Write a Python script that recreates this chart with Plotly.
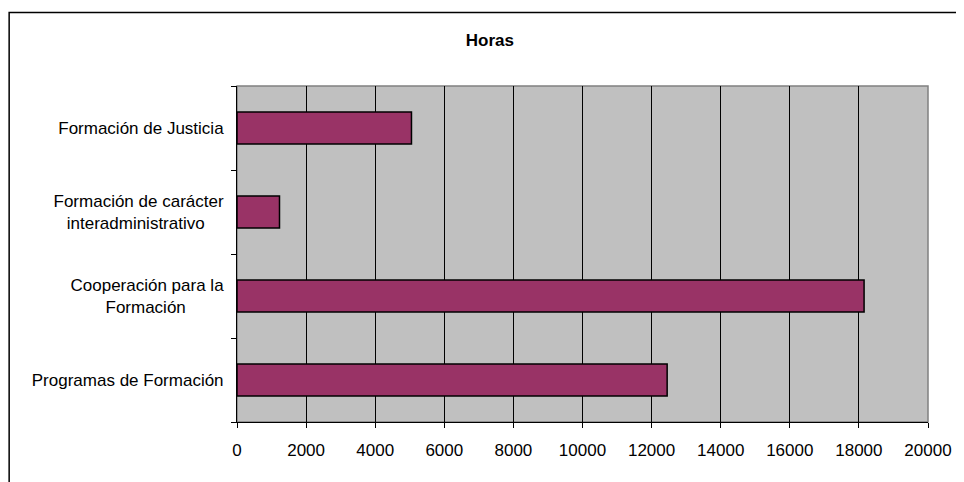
# Horas por tipo de formación - barras horizontales
import plotly.graph_objects as go

# Datos (de abajo hacia arriba)
categorias = [
    'Programas de Formación',
    'Cooperación para la<br>Formación',
    'Formación de carácter<br>interadministrativo',
    'Formación de Justicia',
]
horas = [12450, 18150, 1230, 5050]
ticks_x = [0, 2000, 4000, 6000, 8000, 10000, 12000, 14000, 16000, 18000, 20000]

# centrar a mano las etiquetas de dos líneas (plotly las alinea a la derecha)
nb = '\u00a0'
etiquetas = [
    'Programas de Formación',
    'Cooperación para la<br>Formación' + nb * 8,
    'Formación de carácter<br>interadministrativo' + nb * 4,
    'Formación de Justicia',
]

fig = go.Figure(go.Bar(
    x=horas, y=categorias, orientation='h',
    marker=dict(color='#993366', line=dict(color='black', width=1.5)),
))

# la página tiene 8px de margen en el body -> figura un poco más pequeña
fig.update_layout(
    width=956, height=474,
    margin=dict(l=229, r=31, t=78, b=60),
    paper_bgcolor='white', plot_bgcolor='#C0C0C0',
    font=dict(family='Liberation Sans, Arial, sans-serif', size=17, color='black'),
    title=dict(text='<b>Horas</b>', x=0.504, xref='container', xanchor='center',
               y=0.932, yref='container', yanchor='middle',
               font=dict(size=17, color='black')),
    bargap=0.62,
    showlegend=False,
)

fig.update_xaxes(
    range=[0, 20000], tickvals=ticks_x, ticktext=[str(t) for t in ticks_x],
    showgrid=True, gridcolor='black', gridwidth=1, zeroline=False,
    showline=True, linecolor='black', linewidth=1,
    ticks='outside', ticklen=5, tickcolor='black', ticklabelstandoff=8,
)
fig.update_yaxes(
    categoryorder='array', categoryarray=categorias,
    tickvals=categorias, ticktext=etiquetas,
    showgrid=False, zeroline=False,
    showline=True, linecolor='black', linewidth=1,
    ticks='outside', ticklen=5, tickcolor='black', tickson='boundaries',
    ticklabelstandoff=9,
)

# borde gris del área de trazado y marco exterior del gráfico
fig.add_shape(type='rect', xref='paper', yref='paper', x0=0, x1=1, y0=0, y1=1,
              line=dict(color='#808080', width=1.5), layer='below')
fig.add_shape(type='rect', xref='paper', yref='paper',
              x0=(7.5 - 237) / 696, x1=(990 - 237) / 696,
              y0=(422 - 500) / 336, y1=(422 - 12.5) / 336,
              line=dict(color='black', width=1.5))

fig.write_html('out.html')
